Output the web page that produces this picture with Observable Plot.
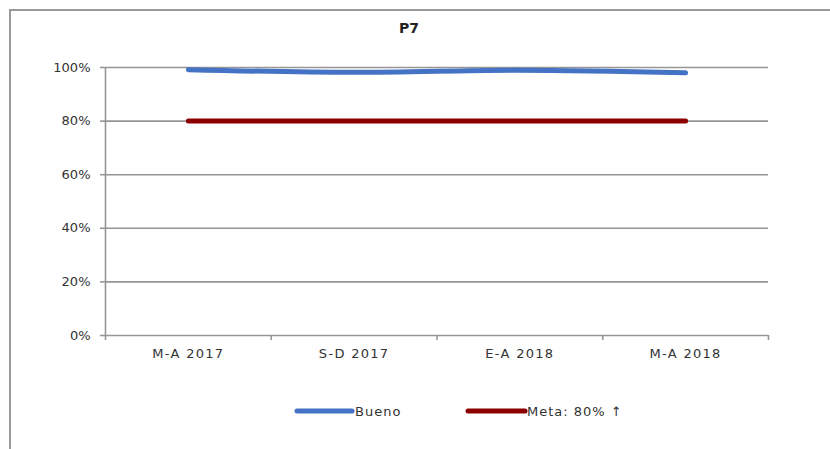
<!DOCTYPE html>
<html>
<head>
<meta charset="utf-8">
<script src="https://cdn.jsdelivr.net/npm/d3@7"></script>
<script src="https://cdn.jsdelivr.net/npm/@observablehq/plot@0.6"></script>
<style>
  html, body { margin: 0; padding: 0; background: #fff; }
  #wrap { position: relative; width: 830px; height: 449px; overflow: hidden; font-family: "DejaVu Sans", sans-serif; }
  #frame { position: absolute; left: 9px; top: 9px; width: 900px; height: 500px; border-top: 2px solid #999; border-left: 2px solid #999; box-sizing: border-box; }
  #chart { position: absolute; left: 0; top: 0; }
  #chart g[aria-label="x-axis tick label"] text { letter-spacing: 1.3px; }
  #title { position: absolute; left: 0; width: 818px; top: 20px; text-align: center; font-weight: bold; font-size: 14px; color: #222; }
  #legend { position: absolute; top: 402px; left: 0; width: 830px; height: 20px; }
</style>
</head>
<body>
<div id="wrap">
  <div id="frame"></div>
  <div id="chart"></div>
  <div id="title">P7</div>
  <svg id="legend" width="830" height="20"></svg>
</div>
<script>
const categories = ["M-A 2017", "S-D 2017", "E-A 2018", "M-A 2018"];
const bueno = [0.992, 0.982, 0.990, 0.980];
const meta = [0.80, 0.80, 0.80, 0.80];
const yTicks = [0, 0.2, 0.4, 0.6, 0.8, 1.0];
const seriesNames = ["Bueno", "Meta: 80% ↑"];
const seriesColors = ["#4472C4", "#8B0000"];

const rows = [];
categories.forEach((c, i) => {
  rows.push({i, cat: c, value: bueno[i], series: seriesNames[0]});
  rows.push({i, cat: c, value: meta[i], series: seriesNames[1]});
});
const boundaries = d3.range(categories.length + 1).map(d => d - 0.5);

const plot = Plot.plot({
  width: 830,
  height: 449,
  marginLeft: 105,
  marginRight: 62,
  marginTop: 67,
  marginBottom: 114,
  style: {fontFamily: "DejaVu Sans, sans-serif", fontSize: "13px", color: "#404040", background: "transparent"},
  x: {type: "linear", domain: [-0.5, categories.length - 0.5]},
  y: {domain: [0, 1]},
  color: {domain: seriesNames, range: seriesColors},
  marks: [
    Plot.ruleY(yTicks, {stroke: "#969696", strokeWidth: 1.6}),
    Plot.ruleX([-0.5], {stroke: "#969696", strokeWidth: 1.6}),
    Plot.axisY({ticks: yTicks, tickFormat: d => Math.round(d * 100) + "%", tickSize: 5, tickPadding: 10, stroke: "#969696", strokeWidth: 1.6, label: null, fill: "#333"}),
    Plot.axisX({ticks: boundaries, tickFormat: () => "", tickSize: 5, stroke: "#969696", strokeWidth: 1.6, label: null}),
    Plot.axisX({ticks: d3.range(categories.length), tickFormat: i => categories[i], tickSize: 0, tickPadding: 13, label: null, fill: "#333"}),
    Plot.lineY(rows, {x: "i", y: "value", stroke: "series", z: "series", strokeWidth: 5, strokeLinecap: "round", strokeLinejoin: "round", curve: "monotone-x"})
  ]
});
document.getElementById("chart").appendChild(plot);

// legend
const leg = d3.select("#legend");
const items = [{x0: 297, x1: 352, tx: 355}, {x0: 468, x1: 525, tx: 527}];
items.forEach((it, k) => {
  leg.append("line").attr("x1", it.x0).attr("x2", it.x1).attr("y1", 9).attr("y2", 9)
    .attr("stroke", seriesColors[k]).attr("stroke-width", 5).attr("stroke-linecap", "round");
  leg.append("text").attr("x", it.tx).attr("y", 14).attr("font-size", 13).attr("fill", "#333")
    .attr("font-family", "DejaVu Sans, sans-serif").attr("letter-spacing", "1px").text(seriesNames[k]);
});
</script>
</body>
</html>
